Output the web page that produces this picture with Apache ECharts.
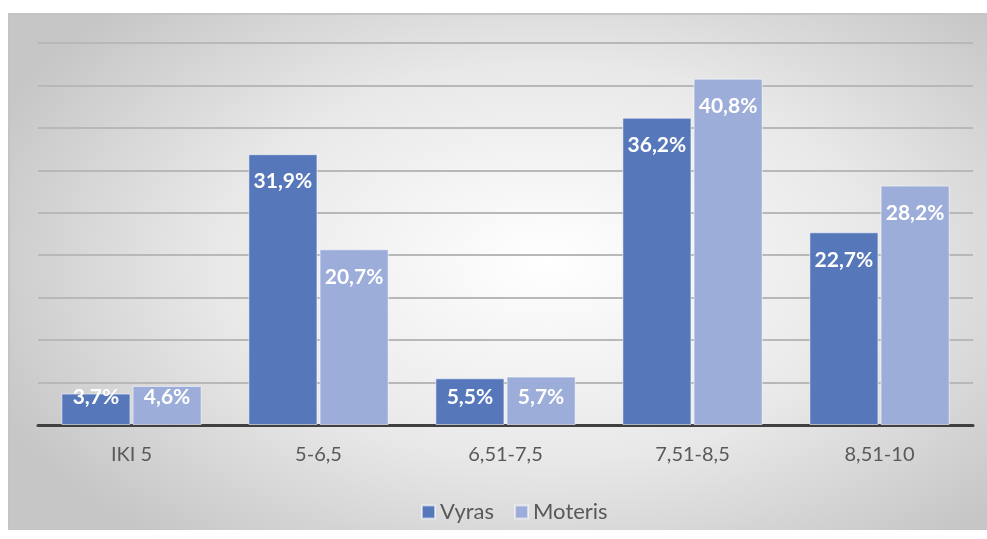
<!DOCTYPE html>
<html>
<head>
<meta charset="utf-8">
<script src="https://cdn.jsdelivr.net/npm/echarts@6/dist/echarts.min.js"></script>
<style>
  html, body { margin: 0; padding: 0; background: #fff; }
  #bg {
    position: absolute; left: 8px; top: 13px; width: 979px; height: 517px;
    border-top: 2px solid #c4c4c4; border-left: 2px solid #c4c4c4; box-sizing: border-box;
    background: radial-gradient(ellipse 62% 70% at 55% 48%, #ffffff 0%, #e8e8e8 55%, #c6c6c6 100%);
  }
  #chart { position: absolute; left: 0; top: 0; width: 987px; height: 539px; }
</style>
</head>
<body>
<div id="bg"></div>
<div id="chart"></div>
<script>
var categories = ['IKI 5', '5-6,5', '6,51-7,5', '7,51-8,5', '8,51-10'];
var vyras = [3.7, 31.9, 5.5, 36.2, 22.7];
var moteris = [4.6, 20.7, 5.7, 40.8, 28.2];

// Excel style labels: inside the top of the bar, pushed up from the baseline on short bars
function toItems(values) {
    return values.map(function (v) {
        var label = v < 7 ? { position: 'insideBottom', distance: 17 } : { position: 'insideTop', distance: 17 };
        return { value: v, label: label };
    });
}

var labelStyle = {
    show: true,
    color: '#ffffff',
    fontWeight: 'bold',
    fontSize: 21,
    fontFamily: 'Lato',
    formatter: function (p) { return String(p.value).replace('.', ',') + '%'; }
};

var option = {
    animation: false,
    grid: { left: 38, right: 14, top: 43, bottom: 114 },
    legend: {
        top: 496,
        left: 416,
        itemWidth: 13,
        itemHeight: 13,
        itemGap: 20,
        icon: 'rect',
        textStyle: { color: '#595959', fontSize: 22, fontFamily: 'Lato' },
        data: ['Vyras', 'Moteris']
    },
    xAxis: {
        type: 'category',
        data: categories,
        axisTick: { show: false },
        axisLine: { lineStyle: { color: '#404040', width: 3 } },
        axisLabel: { color: '#595959', fontSize: 20, fontFamily: 'Lato', margin: 20 }
    },
    yAxis: {
        type: 'value',
        min: 0,
        max: 45,
        interval: 5,
        axisLabel: { show: false },
        axisLine: { show: false },
        axisTick: { show: false },
        splitLine: { lineStyle: { color: '#b8b8b8', width: 2 } }
    },
    series: [
        {
            name: 'Vyras',
            type: 'bar',
            data: toItems(vyras),
            barGap: '3%',
            barCategoryGap: '25%',
            itemStyle: { color: '#5677BA', borderColor: 'rgba(255,255,255,0.55)', borderWidth: 1 },
            label: labelStyle
        },
        {
            name: 'Moteris',
            type: 'bar',
            data: toItems(moteris),
            itemStyle: { color: '#9DADD9', borderColor: 'rgba(255,255,255,0.55)', borderWidth: 1 },
            label: labelStyle
        }
    ]
};

var myChart = echarts.init(document.getElementById('chart'));
myChart.setOption(option);
</script>
</body>
</html>
